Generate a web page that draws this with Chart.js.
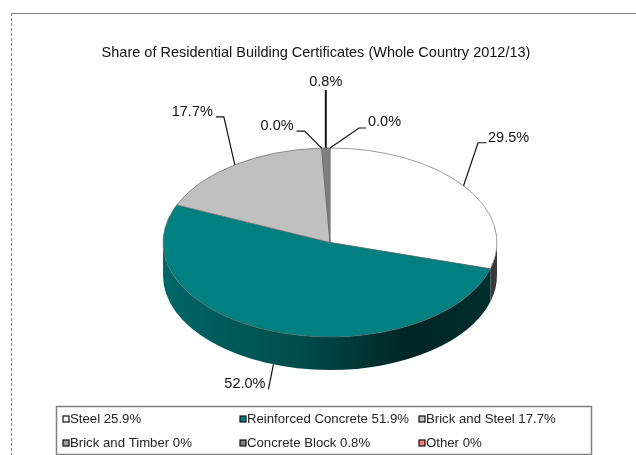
<!DOCTYPE html>
<html>
<head>
<meta charset="utf-8">
<script src="https://cdn.jsdelivr.net/npm/chart.js@4"></script>
<style>
  html, body { margin: 0; padding: 0; background: #fff; overflow: hidden; }
  #frame { position: absolute; left: 11px; top: 13px; width: 625px; height: 442px;
           border-left: 1px dashed #808080; border-top: 1px solid #808080; }
  #chart { position: absolute; left: 0; top: 0; display: block; }
</style>
</head>
<body>
<div id="frame"></div>
<canvas id="chart" width="632" height="455"></canvas>
<script>
const chartTitle = "Share of Residential Building Certificates (Whole Country 2012/13)";
const categories = ["Steel", "Reinforced Concrete", "Brick and Steel", "Brick and Timber", "Concrete Block", "Other"];
const sliceShares = [29.5, 52.0, 17.7, 0.0, 0.8, 0.0];
const legendShares = ["25.9%", "51.9%", "17.7%", "0%", "0.8%", "0%"];
const sliceColors = ["#ffffff", "#008080", "#c0c0c0", "#a0a0a0", "#808080", "#ff8080"];

// pie geometry, squashed to look like a tilted disc
const tilt = 0.566;
const depth = 33;
const radius = 167;
const discCenter = { x: 330, y: 242.5 };

// callout leader: bend and text end, relative to the slice's anchor point
const callouts = [
  { bend: [14.5, -43], end: [23, -43], text: [24.5, -48], align: "left" },
  { bend: [-5, 25], end: [-5, 25], text: [-8, 20], align: "right" },
  { bend: [-11, -48], end: [-19, -48], text: [-22, -53], align: "right" },
  { bend: [-17, -17], end: [-25, -17], text: [-28, -22], align: "right" },
  { bend: [0, -58], end: [0, -58], text: [0, -66], align: "center", width: 2 },
  { bend: [29, -20], end: [36, -20], text: [38, -26], align: "left" }
];

// legend layout
const legendBox = { x: 56.5, y: 406.5, w: 535, h: 48 };
const legendCols = [63, 240, 419];
const legendRows = [419, 443];

function anchorOf(arc) {
  const mid = (arc.startAngle + arc.endAngle) / 2;
  return { x: discCenter.x + radius * Math.cos(mid), y: discCenter.y + radius * tilt * Math.sin(mid), mid };
}

function shade(hex, f) {
  const n = parseInt(hex.slice(1), 16);
  return `rgb(${((n >> 16) & 255) * f},${((n >> 8) & 255) * f},${(n & 255) * f})`;
}

const discPlugin = {
  id: "disc",
  beforeDatasetsDraw(chart) {
    const ctx = chart.ctx;
    const arcs = chart.getDatasetMeta(0).data;
    const rx = radius, ry = radius * tilt;

    // outer wall of the slices on the near side
    arcs.forEach((arc, i) => {
      const a0 = Math.max(arc.startAngle, 0);
      const a1 = Math.min(arc.endAngle, Math.PI);
      if (a1 <= a0) return;
      const base = i === 0 ? "#a0a0a0" : sliceColors[i];
      const grad = ctx.createLinearGradient(discCenter.x - rx, 0, discCenter.x + rx, 0);
      grad.addColorStop(0, shade(base, 0.8));
      grad.addColorStop(0.4, shade(base, 0.6));
      grad.addColorStop(0.72, shade(base, 0.3));
      grad.addColorStop(1, shade(base, 0.36));
      ctx.beginPath();
      ctx.ellipse(discCenter.x, discCenter.y, rx, ry, 0, a0, a1);
      ctx.ellipse(discCenter.x, discCenter.y + depth, rx, ry, 0, a1, a0, true);
      ctx.closePath();
      ctx.fillStyle = grad;
      ctx.fill();
    });

    // squash the circular arcs into the top face
    const first = arcs[0];
    ctx.save();
    ctx.translate(discCenter.x, discCenter.y);
    ctx.scale(1, tilt);
    ctx.translate(-first.x, -first.y);
  },
  afterDatasetsDraw(chart) {
    const ctx = chart.ctx;
    ctx.restore();
    const arcs = chart.getDatasetMeta(0).data;

    // leader lines and percentage labels
    arcs.forEach((arc, i) => {
      const c = callouts[i];
      const p = anchorOf(arc);
      const y0 = p.y + (Math.sin(p.mid) > 0 ? depth : 0);
      ctx.strokeStyle = "#111";
      ctx.lineWidth = c.width || 1.2;
      ctx.beginPath();
      ctx.moveTo(p.x, y0);
      ctx.lineTo(p.x + c.bend[0], y0 + c.bend[1]);
      ctx.lineTo(p.x + c.end[0], y0 + c.end[1]);
      ctx.stroke();
      ctx.fillStyle = "#111";
      ctx.font = "14.5px 'Liberation Sans'";
      ctx.textAlign = c.align;
      ctx.textBaseline = "middle";
      ctx.fillText(sliceShares[i].toFixed(1) + "%", p.x + c.text[0], y0 + c.text[1]);
    });

    // two-row legend box along the bottom
    ctx.strokeStyle = "#808080";
    ctx.lineWidth = 1.5;
    ctx.strokeRect(legendBox.x, legendBox.y, legendBox.w, legendBox.h);
    ctx.font = "13.2px 'Liberation Sans'";
    ctx.textAlign = "left";
    ctx.textBaseline = "middle";
    categories.forEach((name, i) => {
      const x = legendCols[i % 3], y = legendRows[Math.floor(i / 3)];
      ctx.fillStyle = sliceColors[i];
      ctx.strokeStyle = "#111";
      ctx.lineWidth = 1.2;
      ctx.fillRect(x, y - 3, 6, 6);
      ctx.strokeRect(x, y - 3, 6, 6);
      ctx.fillStyle = "#222";
      ctx.fillText(`${name} ${legendShares[i]}`, x + 7, y);
    });
  }
};

new Chart(document.getElementById("chart"), {
  type: "pie",
  data: {
    labels: categories,
    datasets: [{
      data: sliceShares,
      backgroundColor: sliceColors,
      borderColor: "#606060",
      borderWidth: 0.8,
      radius: radius
    }]
  },
  options: {
    responsive: false,
    animation: false,
    plugins: {
      legend: { display: false },
      tooltip: { enabled: false },
      title: {
        display: true,
        text: chartTitle,
        color: "#111",
        font: { family: "'Liberation Sans'", size: 14.5, weight: "normal" },
        padding: { top: 44, bottom: 0 }
      }
    }
  },
  plugins: [discPlugin]
});
</script>
</body>
</html>
